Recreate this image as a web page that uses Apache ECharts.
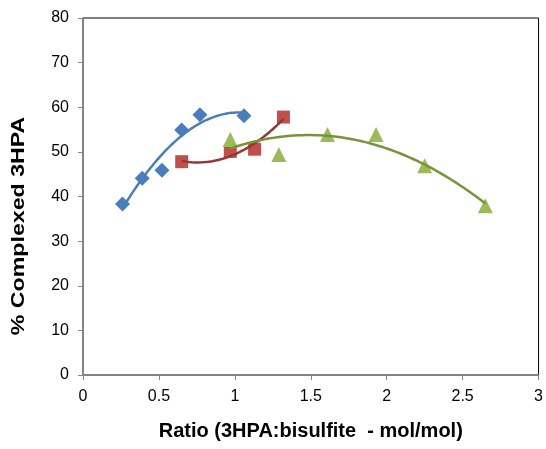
<!DOCTYPE html>
<html><head><meta charset="utf-8">
<script src="https://cdn.jsdelivr.net/npm/echarts@6/dist/echarts.min.js"></script>
<style>html,body{margin:0;padding:0;background:#fff}#c{width:546px;height:449px}</style>
</head><body><div id="c"></div>
<script>
var blueX = [0.26, 0.39, 0.52, 0.65, 0.77, 1.06];
var blueY = [38.3, 44.1, 45.9, 54.9, 58.3, 58.1];
var redX = [0.65, 0.97, 1.13, 1.32];
var redY = [47.8, 50.1, 50.6, 57.8];
var greenX = [0.97, 1.29, 1.61, 1.93, 2.25, 2.65];
var greenY = [52.8, 49.4, 53.9, 53.9, 46.9, 37.9];
var xTicks = ['0', '0.5', '1', '1.5', '2', '2.5', '3'];
var yTicks = ['0', '10', '20', '30', '40', '50', '60', '70', '80'];
var xTitle = 'Ratio (3HPA:bisulfite  - mol/mol)';
var yTitle = '% Complexed 3HPA';

function pairs(xs, ys) { return xs.map(function (x, i) { return [x, ys[i]]; }); }
// least-squares quadratic trendline (as the spreadsheet's polynomial trendline)
function quadFit(xs, ys) {
  var n = xs.length, s = [0,0,0,0,0], t = [0,0,0];
  for (var i = 0; i < n; i++) {
    var x = xs[i], p = 1;
    for (var k = 0; k < 5; k++) { s[k] += p; if (k < 3) t[k] += p * ys[i]; p *= x; }
  }
  var A = [[s[0],s[1],s[2],t[0]],[s[1],s[2],s[3],t[1]],[s[2],s[3],s[4],t[2]]];
  for (var c = 0; c < 3; c++) {
    for (var r = c + 1; r < 3; r++) {
      var f = A[r][c] / A[c][c];
      for (var j = c; j < 4; j++) A[r][j] -= f * A[c][j];
    }
  }
  var b = [0,0,0];
  for (var r2 = 2; r2 >= 0; r2--) {
    var v = A[r2][3];
    for (var j2 = r2 + 1; j2 < 3; j2++) v -= A[r2][j2] * b[j2];
    b[r2] = v / A[r2][r2];
  }
  var lo = Math.min.apply(null, xs), hi = Math.max.apply(null, xs), out = [];
  for (var m = 0; m <= 60; m++) {
    var xx = lo + (hi - lo) * m / 60;
    out.push([xx, b[0] + b[1] * xx + b[2] * xx * xx]);
  }
  return out;
}

var BLUE = '#4a7ebb', RED = '#c0504d', GREEN = '#9bbb59';
var FONT = 'Liberation Sans, Arial, sans-serif';
var chart = echarts.init(document.getElementById('c'), null, {renderer: 'canvas'});
var lbl = {color: '#000', fontFamily: FONT, fontSize: 16};
chart.setOption({
  animation: false,
  grid: {left: 83, right: 4, top: 18, bottom: 74, show: true, borderColor: '#000', borderWidth: 1},
  graphic: [{
    type: 'text', x: 19, y: 226, rotation: Math.PI / 2, scaleX: 1.22,
    style: {text: yTitle, font: 'bold 19px ' + FONT, fill: '#000', textAlign: 'center', textVerticalAlign: 'middle'}
  }],
  xAxis: {
    type: 'value', min: 0, max: 3, interval: 0.5,
    name: xTitle, nameLocation: 'middle', nameGap: 46,
    nameTextStyle: {color: '#000', fontFamily: FONT, fontSize: 20, fontWeight: 'bold'},
    axisLine: {lineStyle: {color: '#868686', width: 1.5}},
    axisTick: {show: true, length: 5, lineStyle: {color: '#868686'}},
    axisLabel: Object.assign({margin: 14, formatter: function (v) { return xTicks[Math.round(v / 0.5)]; }}, lbl),
    splitLine: {show: false}
  },
  yAxis: {
    type: 'value', min: 0, max: 80, interval: 10,
    axisLine: {show: true, lineStyle: {color: '#868686', width: 1.5}},
    axisTick: {show: true, length: 5, lineStyle: {color: '#868686'}},
    axisLabel: Object.assign({margin: 14, formatter: function (v) { return yTicks[Math.round(v / 10)]; }}, lbl),
    splitLine: {show: false}
  },
  series: [
    {type: 'scatter', data: pairs(blueX, blueY), symbol: 'diamond', symbolSize: 15, itemStyle: {color: BLUE, opacity: 1}, z: 2},
    {type: 'scatter', data: pairs(redX, redY), symbol: 'rect', symbolSize: 13, itemStyle: {color: RED, opacity: 1}, z: 2},
    {type: 'scatter', data: pairs(greenX, greenY), symbol: 'triangle', symbolSize: 15, itemStyle: {color: GREEN, opacity: 1}, z: 2},
    {type: 'line', data: quadFit(blueX, blueY), showSymbol: false, lineStyle: {color: BLUE, width: 2.5}, z: 3},
    {type: 'line', data: quadFit(redX, redY), showSymbol: false, lineStyle: {color: '#953735', width: 2.5}, z: 3},
    {type: 'line', data: quadFit(greenX, greenY), showSymbol: false, lineStyle: {color: '#77933c', width: 2.5}, z: 3}
  ]
});
</script></body></html>
